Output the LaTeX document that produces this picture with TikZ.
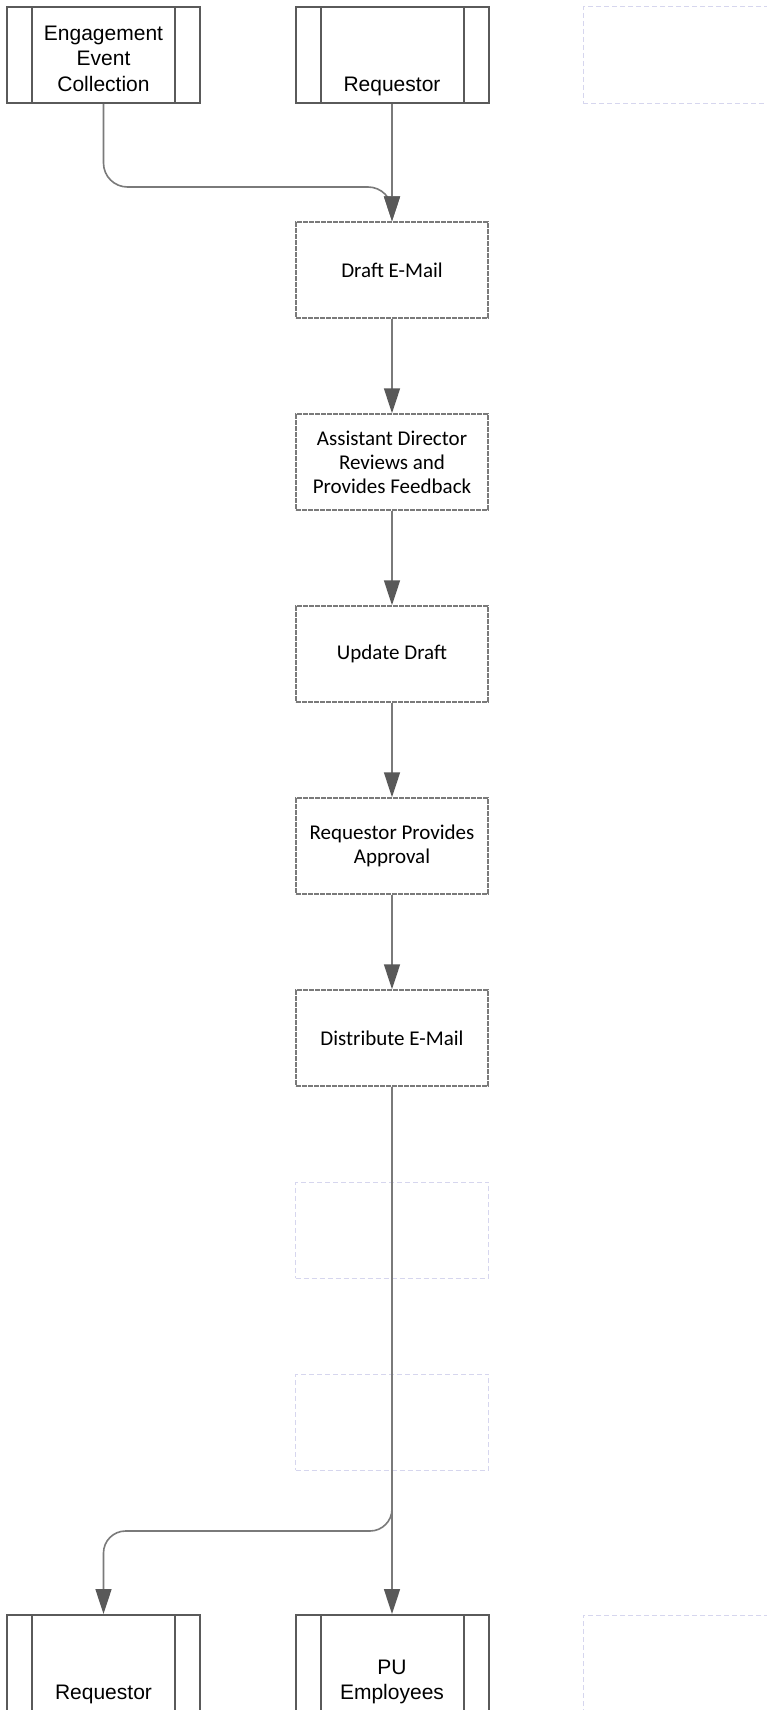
\documentclass[tikz,border=0pt]{standalone}
\usepackage{fontspec}
\setmainfont{Liberation Sans}
\newfontfamily\calfont{Carlito}
\usetikzlibrary{arrows.meta,calc}
\definecolor{boxline}{HTML}{5A5A5A}
\definecolor{procline}{HTML}{7A7A7A}
\definecolor{connline}{HTML}{7A7A7A}
\definecolor{arrowdark}{HTML}{595959}
\definecolor{ghostline}{HTML}{D6D6EE}
\newcommand\pptop{\rule{0pt}{27pt}}
\newcommand\ppbot{\rule[-5pt]{0pt}{0pt}}
\begin{document}
\begin{tikzpicture}[x=1pt,y=-1pt,
  ppbox/.style={draw=boxline, line width=2pt, minimum width=193pt, minimum height=96pt,
    inner sep=0pt, align=center, font=\fontsize{21}{25.5}\selectfont,
    path picture={\draw[boxline,line width=2pt]
      ([xshift=25pt]path picture bounding box.north west) -- ([xshift=25pt]path picture bounding box.south west)
      ([xshift=-25pt]path picture bounding box.north east) -- ([xshift=-25pt]path picture bounding box.south east);}},
  procbox/.style={draw=procline, line width=1.5pt, dash pattern=on 5pt off 1pt,
    minimum width=192pt, minimum height=96pt, inner sep=0pt, align=center,
    font=\calfont\fontsize{21}{24}\selectfont},
  ghostbox/.style={draw=ghostline, line width=1pt, dash pattern=on 5pt off 3pt,
    minimum width=193pt, minimum height=96pt, inner sep=0pt},
  conn/.style={draw=connline, line width=1.6pt,
    -{Triangle[length=25pt,width=16pt,color=arrowdark]}}
]
\useasboundingbox (0,0) rectangle (767,1710);
\fill[white] (0,0) rectangle (767,1710);

% top row
\node[ppbox] (eec) at (103.5,55) {\pptop Engagement\\Event\\Collection\ppbot};
\node[ppbox] (req) at (392,55) {\pptop\\\\Requestor\ppbot};
\node[ghostbox] (gtop) at (679.5,55) {};

% process chain
\node[procbox] (draft) at (392,270) {Draft E-Mail};
\node[procbox] (assist) at (392,462) {Assistant Director\\Reviews and\\Provides Feedback};
\node[procbox] (update) at (392,654) {Update Draft};
\node[procbox] (approve) at (392,846) {Requestor Provides\\Approval};
\node[procbox] (distrib) at (392,1038) {Distribute E-Mail};

% invisible boxes
\node[ghostbox] (g1) at (392,1230) {};
\node[ghostbox] (g2) at (392,1422) {};

% bottom row
\node[ppbox] (reqb) at (103.5,1663) {\pptop\\\\Requestor\ppbot};
\node[ppbox] (pue) at (392,1663) {\pptop\\PU\\Employees\ppbot};
\node[ghostbox] (gbot) at (679.5,1663) {};

% connectors
\coordinate (j1) at (392,187);
\coordinate (j2) at (392,1531);
\draw[conn] (eec.south) [rounded corners=24pt] |- (j1) [rounded corners=12pt] -- (draft.north);
\draw[conn] (req.south) -- (draft.north);
\draw[conn] (draft.south) -- (assist.north);
\draw[conn] (assist.south) -- (update.north);
\draw[conn] (update.south) -- (approve.north);
\draw[conn] (approve.south) -- (distrib.north);
\draw[conn] (distrib.south) -- (pue.north);
\draw[conn, rounded corners=22pt] (distrib.south) -- (j2) -| (reqb.north);
\end{tikzpicture}
\end{document}
